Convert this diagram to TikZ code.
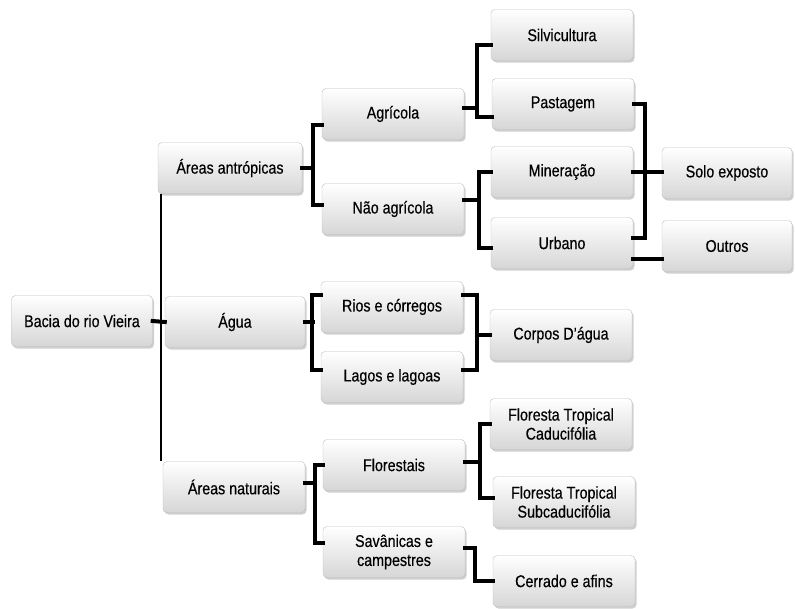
\documentclass[tikz,border=0pt]{standalone}
\usepackage{fontspec}
\setmainfont{Liberation Sans}[FakeStretch=0.84, FakeBold=0.4]
\usepackage{tikz}
\usetikzlibrary{shadows}

\tikzset{
  caixa/.style={rounded corners=4pt, draw=gray!50, top color=white, bottom color=gray!32,
    minimum width=142pt, minimum height=51pt, align=center, inner sep=2pt,
    font=\fontsize{17}{19}\selectfont,
    drop shadow={shadow xshift=1.5pt, shadow yshift=-2pt, fill=gray!75}},
  liga/.style={line width=4pt, line cap=rect},
  fina/.style={line width=1.4pt}
}

\begin{document}
\begin{tikzpicture}[x=1pt, y=-1pt]
    \useasboundingbox (0,0) rectangle (795,608);

    % First level
    \node[caixa, minimum width=141pt] (bacia) at (82,321) {Bacia do rio Vieira};
    \node[caixa, minimum width=144pt] (antropicas) at (230,168) {Áreas antrópicas};
    \node[caixa, minimum width=140pt] (agua) at (235,322) {Água};
    \node[caixa] (naturais) at (234,487) {Áreas naturais};

    % Second level
    \node[caixa] (agricola) at (393,114) {Agrícola};
    \node[caixa] (naoagricola) at (393,209) {Não agrícola};
    \node[caixa] (rios) at (392,307) {Rios e córregos};
    \node[caixa] (lagos) at (392,377) {Lagos e lagoas};
    \node[caixa] (florestais) at (394,465) {Florestais};
    \node[caixa] (savanicas) at (394,552) {Savânicas e\\campestres};

    % Third level
    \node[caixa] (silvicultura) at (562,35) {Silvicultura};
    \node[caixa] (pastagem) at (563,104) {Pastagem};
    \node[caixa] (mineracao) at (562,172) {Mineração};
    \node[caixa] (urbano) at (562,243) {Urbano};
    \node[caixa] (corpos) at (561,335) {Corpos D'água};
    \node[caixa] (caducifolia) at (561,424) {Floresta Tropical\\Caducifólia};
    \node[caixa] (subcaducifolia) at (564,502) {Floresta Tropical\\Subcaducifólia};
    \node[caixa] (cerrado) at (564,581) {Cerrado e afins};

    % Fourth level
    \node[caixa, minimum width=130pt] (solo) at (727,173) {Solo exposto};
    \node[caixa, minimum width=130pt] (outros) at (727,246) {Outros};

    % Main trunk
    \draw[fina] ([xshift=3pt]antropicas.south west) -- ([xshift=3pt]antropicas.south west |- naturais.north);
    \draw[liga] (bacia.east) -- (agua.west);

    % Areas antropicas
    \draw[liga] (antropicas.east) -- ++(9,0);
    \draw[liga] ([yshift=-11pt]agricola.west) -- ++(-9,0) |- ([yshift=4pt]naoagricola.west);
    \draw[liga] ([yshift=6pt]agricola.east) -- ++(13,0);
    \draw[liga] ([yshift=-10pt]silvicultura.west) -- ++(-14,0) |- ([yshift=-13pt]pastagem.west);
    \draw[liga] ([yshift=9pt]naoagricola.east) -- ++(13,0);
    \draw[liga] (mineracao.west) -- ++(-12,0) |- ([yshift=-5pt]urbano.west);
    \draw[liga] (pastagem.east) -- ++(11,0) |- ([yshift=5pt]urbano.east);
    \draw[liga] (mineracao.east) -- (solo.west |- mineracao.east);
    \coordinate (urbanobaixo) at ([yshift=-16pt]urbano.east);
    \draw[liga] (urbanobaixo) -- (outros.west |- urbanobaixo);

    % Agua
    \draw[liga] (agua.east) -- ++(8,0);
    \draw[liga] ([yshift=12pt]rios.west) -- ++(-9,0) |- ([yshift=7pt]lagos.west);
    \draw[liga] ([yshift=12pt]rios.east) -- ++(14,0) |- ([yshift=7pt]lagos.east);
    \draw[liga] (corpos.west) -- ++(-13,0);

    % Areas naturais
    \draw[liga] ([yshift=4pt]naturais.east) -- ++(10,0);
    \draw[liga] (florestais.west) -- ++(-8,0) |- ([yshift=9pt]savanicas.west);
    \draw[liga] ([yshift=3pt]florestais.east) -- ++(14,0);
    \draw[liga] (caducifolia.west) -- ++(-10,0) |- ([yshift=4pt]subcaducifolia.west);
    \draw[liga] ([yshift=4pt]savanicas.east) -- ++(10,0) |- (cerrado.west);
\end{tikzpicture}
\end{document}
